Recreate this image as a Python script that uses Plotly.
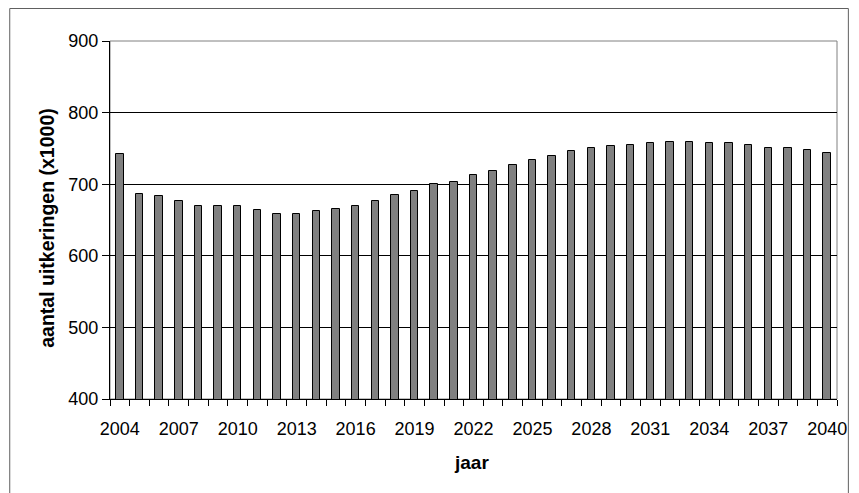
import plotly.graph_objects as go

years = list(range(2004, 2041))
uitkeringen = [742, 687, 683, 677, 670, 670, 670, 664, 659, 659, 662, 666, 670,
               677, 685, 691, 700, 703, 713, 719, 727, 734, 740, 746, 751, 753,
               755, 757, 759, 759, 757, 757, 755, 750, 750, 748, 744]
x_tick_labels = list(range(2004, 2041, 3))
y_ticks = [400, 500, 600, 700, 800, 900]

W, H = 859, 493
L, R, T, B = 110, 13, 41, 94
pw, ph = W - L - R, H - T - B

def px_to_paper_x(px):
    return (px - L) / pw

def px_to_paper_y(py):
    return (H - B - py) / ph

fig = go.Figure()
fig.add_trace(go.Bar(
    x=years, y=uitkeringen, width=0.38,
    marker=dict(color="#808080", line=dict(color="black", width=1)),
))

font = "Liberation Sans, Arial, Helvetica, sans-serif"
fig.update_layout(
    width=W, height=H,
    margin=dict(l=L, r=R, t=T, b=B),
    paper_bgcolor="white", plot_bgcolor="white",
    showlegend=False,
    font=dict(family=font, size=18, color="black"),
    bargap=0,
)
fig.update_xaxes(
    range=[2003.5, 2040.5],
    tickmode="array", tickvals=x_tick_labels,
    ticktext=[str(v) for v in x_tick_labels],
    ticks="", showgrid=False,
    showline=True, linecolor="black", linewidth=1,
    minor=dict(tickmode="linear", tick0=2003.5, dtick=1, ticks="outside",
               ticklen=6, tickcolor="black", showgrid=False),
    tickfont=dict(size=18), ticklabelstandoff=13,
    zeroline=False,
)
fig.update_yaxes(
    range=[400, 900], tickmode="array", tickvals=y_ticks,
    ticks="outside", ticklen=7, tickcolor="black",
    showgrid=True, gridcolor="black", gridwidth=1,
    showline=True, linecolor="black", linewidth=1,
    tickfont=dict(size=18), zeroline=False,
)

# plot area border (right side / top)
fig.add_shape(type="rect", xref="paper", yref="paper", x0=0, x1=1, y0=0, y1=1,
              line=dict(color="#808080", width=1), layer="below")
# outer chart border
fig.add_shape(type="rect", xref="paper", yref="paper",
              x0=px_to_paper_x(8.5), x1=px_to_paper_x(857.5),
              y0=px_to_paper_y(520), y1=px_to_paper_y(8.5),
              line=dict(color="#606060", width=1))

fig.add_annotation(text="<b>jaar</b>", xref="paper", yref="paper",
                   x=px_to_paper_x(476), y=px_to_paper_y(462),
                   showarrow=False, font=dict(size=19), xanchor="center", yanchor="middle")
fig.add_annotation(text="<b>aantal uitkeringen (x1000)</b>", xref="paper", yref="paper",
                   x=px_to_paper_x(46), y=px_to_paper_y(228), textangle=-90,
                   showarrow=False, font=dict(size=19.5), xanchor="center", yanchor="middle")

fig.write_html("out.html")
